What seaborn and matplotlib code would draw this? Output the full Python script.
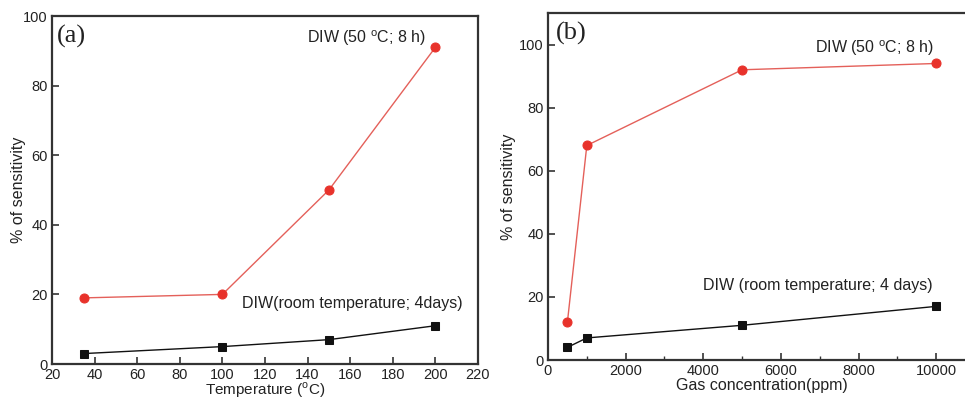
import matplotlib
matplotlib.use("Agg")
import matplotlib.pyplot as plt
import seaborn as sns
from matplotlib.ticker import MultipleLocator


# ============================================
# DATA
# ============================================

temperature = [35, 100, 150, 200]
temp_hot = [19, 20, 50, 91]
temp_room = [3, 5, 7, 11]

gas_ppm = [500, 1000, 5000, 10000]
gas_hot = [12, 68, 92, 94]
gas_room = [4, 7, 11, 17]

label_hot = "DIW (50 $^\\mathregular{o}$C; 8 h)"
label_room_a = "DIW(room temperature; 4days)"
label_room_b = "DIW (room temperature; 4 days)"


# ============================================
# STYLE
# ============================================

sns.set_style("ticks")
plt.rcParams["font.family"] = ["Liberation Sans", "DejaVu Sans"]
plt.rcParams["xtick.direction"] = "in"
plt.rcParams["ytick.direction"] = "in"

RED = "#e8322b"
RED_LINE = "#e4605a"
BLACK = "#111111"
SPINE = "#333333"

fig = plt.figure(figsize=(9.65, 4.0), dpi=100)

ax_a = fig.add_axes([52 / 965, 36 / 400, 426 / 965, 348 / 400])
ax_b = fig.add_axes([548 / 965, 40 / 400, 427 / 965, 347 / 400])


def draw_series(ax, x, y, marker, color, line_color, size):
    sns.lineplot(
        x=x,
        y=y,
        ax=ax,
        color=line_color,
        linewidth=1.0,
        marker=marker,
        markersize=size,
        markerfacecolor=color,
        markeredgecolor=color,
        estimator=None,
        sort=False
    )


def style_axes(ax, pad):
    for s in ax.spines.values():
        s.set_color(SPINE)
        s.set_linewidth(1.6)
    ax.tick_params(which="major", length=5, width=1.2, color=SPINE,
                   labelsize=10.5, labelcolor="#222222", pad=3)
    ax.tick_params(which="minor", length=3, width=1.0, color=SPINE)
    ax.set_ylabel("% of sensitivity", fontsize=11.5, color="#222222",
                  labelpad=pad)


# ============================================
# PANEL (a)
# ============================================

draw_series(ax_a, temperature, temp_hot, "o", RED, RED_LINE, 6.5)
draw_series(ax_a, temperature, temp_room, "s", BLACK, BLACK, 5.5)

ax_a.set_xlim(20, 220)
ax_a.set_ylim(0, 100)
ax_a.xaxis.set_major_locator(MultipleLocator(20))
ax_a.yaxis.set_major_locator(MultipleLocator(20))
style_axes(ax_a, -2)
ax_a.set_xlabel("Temperature ($^\\mathregular{o}$C)", fontsize=11,
                color="#222222", labelpad=-1)

ax_a.text(22.5, 94, "(a)", fontsize=19, family="Liberation Serif",
          va="center", ha="left", color="#222222")
ax_a.text(139.5, 93.5, label_hot, fontsize=11.5, va="center", color="#222222")
ax_a.text(109, 17.5, label_room_a, fontsize=11.5, va="center", color="#222222")


# ============================================
# PANEL (b)
# ============================================

draw_series(ax_b, gas_ppm, gas_hot, "o", RED, RED_LINE, 6.5)
draw_series(ax_b, gas_ppm, gas_room, "s", BLACK, BLACK, 5.5)

ax_b.set_xlim(0, 11000)
ax_b.set_ylim(0, 110)
ax_b.xaxis.set_major_locator(MultipleLocator(2000))
ax_b.xaxis.set_minor_locator(MultipleLocator(1000))
ax_b.yaxis.set_major_locator(MultipleLocator(20))
style_axes(ax_b, 2)
ax_b.set_xlabel("Gas concentration(ppm)", fontsize=11.5,
                color="#222222", labelpad=0)

ax_b.text(210, 103.5, "(b)", fontsize=19, family="Liberation Serif",
          va="center", ha="left", color="#222222")
ax_b.text(6880, 99, label_hot, fontsize=11.5, va="center", color="#222222")
ax_b.text(3990, 23.7, label_room_b, fontsize=11.5, va="center", color="#222222")


plt.savefig("out.png", dpi=100)
